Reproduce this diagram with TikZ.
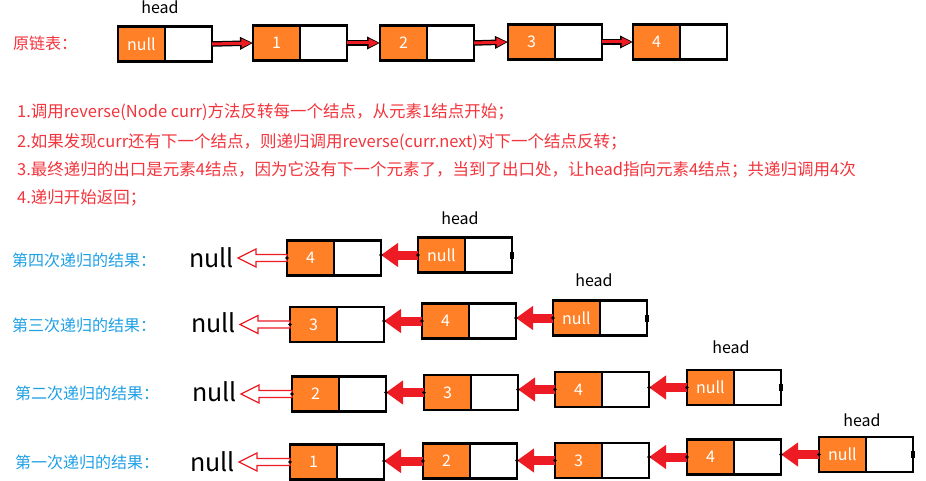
\documentclass[tikz,border=0pt]{standalone}
\usepackage{fontspec}
\setmainfont{Noto Sans CJK SC}
\usetikzlibrary{arrows.meta,calc}
\definecolor{lorange}{RGB}{255,128,39}
\definecolor{arrred}{RGB}{237,28,36}
\definecolor{txtred}{RGB}{242,52,60}
\definecolor{lblblue}{RGB}{30,160,229}
\tikzset{
 cellL/.style={draw=black, line width=2.5pt, fill=lorange, minimum width=47pt, minimum height=35pt, inner sep=0pt, outer sep=0pt, text=white, font=\fontsize{16}{16}\selectfont},
 cellR/.style={draw=black, line width=2.5pt, fill=white, minimum width=47pt, minimum height=35pt, inner sep=0pt, outer sep=0pt},
 headlbl/.style={font=\fontsize{16}{16}\selectfont, text=black, inner sep=0pt},
 nulllbl/.style={font=\fontsize{25}{25}\selectfont, text=black, inner sep=0pt, anchor=east},
 rowlbl/.style={font=\fontsize{16}{16}\selectfont, text=lblblue, inner sep=0pt, anchor=west},
 redtxt/.style={font=\fontsize{16.5}{16.5}\selectfont, text=txtred, inner sep=0pt, anchor=west},
 toparrB/.style={draw=black, line width=5.5pt, -{Triangle[length=13pt,width=12pt]}},
 toparrR/.style={draw=arrred, line width=3pt, shorten >=1.5pt, -{Triangle[length=10pt,width=8.5pt]}},
 redarr/.style={draw=arrred, line width=9pt, -{Triangle[length=17pt,width=23pt]}},
 hollowarr/.style={draw=arrred, line width=1.3pt, fill=white, line join=miter},
 enddot/.style={fill=black, minimum width=4pt, minimum height=7pt, inner sep=0pt, outer sep=0pt},
}
\newcommand{\lnode}[4]{%
 \node[cellL, anchor=west] (#1) at (#2,#3) {#4};
 \node[cellR, anchor=west] (#1r) at (#1.east) {};}
\newcommand{\tarr}[2]{%
 \draw[toparrB] (#1r.east) -- (#2.west);
 \draw[toparrR] (#1r.east) -- (#2.west);}
\newcommand{\rarr}[2]{%
 \draw[redarr] (#1.west) -- (#1.west -| #2r.east);
 \fill (#1.west) circle (1.8pt);
 \fill (#1.west -| #2r.east) circle (1.8pt);}
\newcommand{\harr}[2]{%
 \draw[hollowarr] ($(#1.west)+(0,3.5)$) -- ($(#2.east |- #1.west)+(22,3.5)$) -- ($(#2.east |- #1.west)+(22,9)$) -- ($(#2.east |- #1.west)+(4,0)$) -- ($(#2.east |- #1.west)+(22,-9)$) -- ($(#2.east |- #1.west)+(22,-3.5)$) -- ($(#1.west)+(0,-3.5)$) -- cycle;
 \fill (#1.west) circle (1.8pt);}
\begin{document}
\begin{tikzpicture}[x=1pt,y=-1pt]
\useasboundingbox (0,0) rectangle (926,481);
% ---------- original list ----------
\node[rowlbl, text=txtred] (orig) at (13,43) {原链表：};
\node[headlbl] (th) at (160,7) {head};
\lnode{t0}{118}{44}{null}
\lnode{t1}{253}{43}{1}
\lnode{t2}{380}{43}{2}
\lnode{t3}{508}{42}{3}
\lnode{t4}{633}{42}{4}
\tarr{t0}{t1}
\tarr{t1}{t2}
\tarr{t2}{t3}
\tarr{t3}{t4}
% ---------- explanation ----------
\node[redtxt] (l1) at (17,112) {1.调用reverse(Node curr)方法反转每一个结点，从元素1结点开始；};
\node[redtxt] (l2) at (17,142) {2.如果发现curr还有下一个结点，则递归调用reverse(curr.next)对下一个结点反转；};
\node[redtxt] (l3) at (17,170) {3.最终递归的出口是元素4结点，因为它没有下一个元素了，当到了出口处，让head指向元素4结点；共递归调用4次};
\node[redtxt] (l4) at (17,198) {4.递归开始返回；};
% ---------- 4th recursion ----------
\node[rowlbl] (r4l) at (12,260) {第四次递归的结果：};
\node[nulllbl] (r4n) at (234,258) {null};
\node[headlbl] (r4hl) at (460,218) {head};
\lnode{r4a}{287}{258}{4}
\lnode{r4h}{418}{255}{null}
\node[enddot] (r4d) at (r4hr.east) {};
\harr{r4a}{r4n}
\rarr{r4h}{r4a}
% ---------- 3rd recursion ----------
\node[rowlbl] (r3l) at (12,325) {第三次递归的结果：};
\node[nulllbl] (r3n) at (236,323) {null};
\node[headlbl] (r3hl) at (594,280) {head};
\lnode{r3a}{290}{324.5}{3}
\lnode{r3b}{422}{321}{4}
\lnode{r3h}{553}{318}{null}
\node[enddot] (r3d) at (r3hr.east) {};
\harr{r3a}{r3n}
\rarr{r3b}{r3a}
\rarr{r3h}{r3b}
% ---------- 2nd recursion ----------
\node[rowlbl] (r2l) at (15,393) {第二次递归的结果：};
\node[nulllbl] (r2n) at (237,392) {null};
\node[headlbl] (r2hl) at (731,347) {head};
\lnode{r2a}{292}{394}{2}
\lnode{r2b}{424}{392.5}{3}
\lnode{r2c}{555}{389.5}{4}
\lnode{r2h}{687}{387.5}{null}
\node[enddot] (r2d) at (r2hr.east) {};
\harr{r2a}{r2n}
\rarr{r2b}{r2a}
\rarr{r2c}{r2b}
\rarr{r2h}{r2c}
% ---------- 1st recursion ----------
\node[rowlbl] (r1l) at (15,462) {第一次递归的结果：};
\node[nulllbl] (r1n) at (235,462) {null};
\node[headlbl] (r1hl) at (862,420) {head};
\lnode{r1a}{290}{462}{1}
\lnode{r1b}{423}{461}{2}
\lnode{r1c}{555}{460.5}{3}
\lnode{r1d}{687}{457}{4}
\lnode{r1h}{819}{454.5}{null}
\node[enddot] (r1e) at (r1hr.east) {};
\harr{r1a}{r1n}
\rarr{r1b}{r1a}
\rarr{r1c}{r1b}
\rarr{r1d}{r1c}
\rarr{r1h}{r1d}
\end{tikzpicture}
\end{document}
